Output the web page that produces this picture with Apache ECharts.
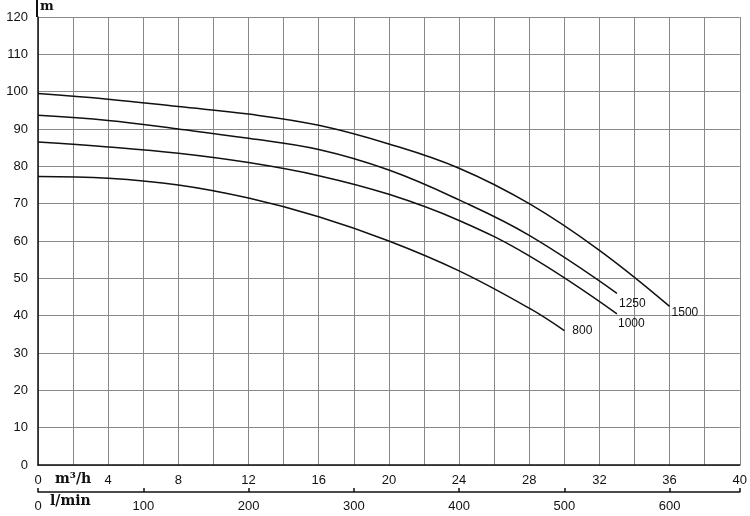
<!DOCTYPE html>
<html lang="en">
<head>
    <meta charset="UTF-8">
    <title>Pump curves</title>
    <script src="https://cdn.jsdelivr.net/npm/echarts@6/dist/echarts.min.js"></script>
</head>
<body style="margin:0">
    <div id="main" style="width: 750px; height: 516px;"></div>
    <script>
        const c1500 = [[0, 99.5], [4, 98], [8, 96], [12, 94], [16, 91], [20, 86], [24, 79.5], [28, 70], [32, 57.5], [36, 42.5]];
        const c1250 = [[0, 93.7], [4, 92.3], [8, 90], [12, 87.5], [16, 84.5], [20, 79], [24, 71], [28, 61.5], [33, 46]];
        const c1000 = [[0, 86.5], [4, 85.2], [8, 83.5], [12, 81], [16, 77.5], [20, 72.5], [24, 65.5], [28, 56], [33, 40.5]];
        const c800 = [[0, 77.3], [4, 76.8], [8, 75], [12, 71.5], [16, 66.5], [20, 60], [24, 52], [28, 42], [30, 36]];
        const names = ['1500', '1250', '1000', '800'];
        const labelOffsets = [[-6, 6], [-6, 10], [-7, 10], [0, 0]];

        const chart = echarts.init(document.getElementById('main'));
        const mk = (name, data, i) => ({
            name: name, type: 'line', data: data, smooth: 0.4, showSymbol: false,
            xAxisIndex: 0,
            lineStyle: { color: '#111', width: 1.5 },
            endLabel: { show: true, formatter: name, color: '#111', fontSize: 12,
                offset: labelOffsets[i], fontFamily: 'Arial' }
        });
        chart.setOption({
            animation: false,
            grid: { left: 38, right: 5, top: 17, bottom: 51 },
            xAxis: [{
                type: 'value', min: 0, max: 40, interval: 2,
                axisLine: { lineStyle: { color: '#111', width: 1.5 } },
                axisTick: { show: false },
                axisLabel: { color: '#111', fontSize: 13, margin: 9,
                    formatter: v => (v % 4 === 0 ? String(v) : '') },
                splitLine: { show: true, lineStyle: { color: '#888', width: 1 } }
            }, {
                type: 'value', position: 'bottom', offset: 27, min: 0, max: 40 * 1000 / 60, interval: 100,
                axisLine: { show: true, lineStyle: { color: '#111', width: 1.5 } },
                axisTick: { show: true, inside: true, length: 4, lineStyle: { color: '#111', width: 1.5 } },
                axisLabel: { color: '#111', fontSize: 13, margin: 8,
                    formatter: v => (v % 100 === 0 ? String(v) : '') },
                splitLine: { show: false }
            }],
            yAxis: {
                type: 'value', min: 0, max: 120, interval: 10,
                axisLine: { show: true, lineStyle: { color: '#111', width: 1.5 } },
                axisTick: { show: false },
                axisLabel: { color: '#111', fontSize: 13, margin: 10 },
                splitLine: { lineStyle: { color: '#888', width: 1 } }
            },
            graphic: [
                { type: 'text', left: 40, top: 0, style: { text: 'm', font: 'bold 13px "DejaVu Serif"', fill: '#111' } },
                { type: 'text', left: 55, top: 472, style: { text: 'm³/h', font: 'bold 14px "DejaVu Serif"', fill: '#111' } },
                { type: 'text', left: 50, top: 494, style: { text: 'l/min', font: 'bold 14px "DejaVu Serif"', fill: '#111' } },
                { type: 'rect', shape: { x: 36, y: 0, width: 2, height: 17 }, style: { fill: '#111' } }
            ],
            series: [mk(names[0], c1500, 0), mk(names[1], c1250, 1), mk(names[2], c1000, 2), mk(names[3], c800, 3)]
        });
    </script>
</body>
</html>
